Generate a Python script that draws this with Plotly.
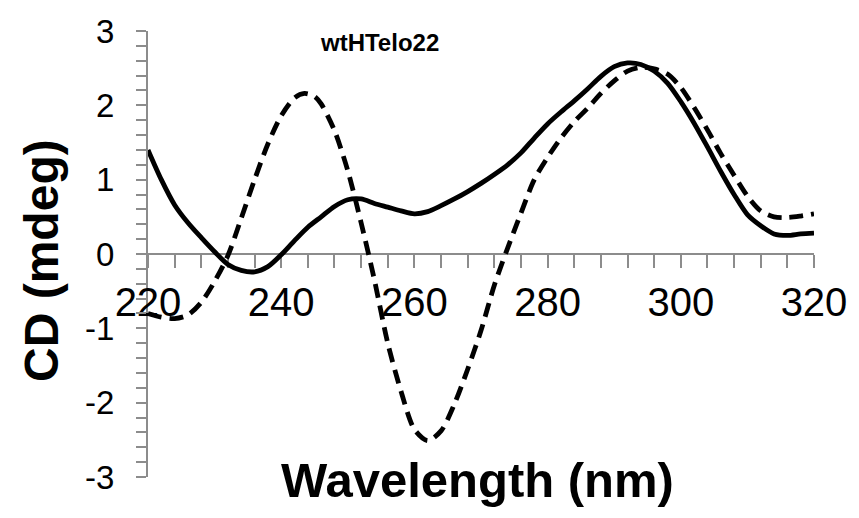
import plotly.graph_objects as go

# Solid curve (wavelength nm, CD mdeg)
solid_wl = [220, 222, 224, 226, 228, 230, 232, 234, 236, 238, 240, 242, 244, 246, 248, 250,
            252, 254, 256, 258, 260, 262, 264, 266, 268, 270, 272, 274, 276, 278, 280, 282,
            284, 286, 288, 290, 292, 294, 296, 298, 300, 302, 304, 306, 308, 310, 312, 314,
            316, 318, 320]
solid_cd = [1.40, 1.00, 0.66, 0.42, 0.22, 0.03, -0.14, -0.22, -0.24, -0.17, -0.01, 0.18, 0.36,
            0.50, 0.64, 0.73, 0.74, 0.68, 0.63, 0.58, 0.54, 0.57, 0.65, 0.74, 0.84, 0.95, 1.07,
            1.20, 1.36, 1.56, 1.75, 1.91, 2.06, 2.22, 2.39, 2.52, 2.57, 2.55, 2.46, 2.30, 2.05,
            1.76, 1.44, 1.11, 0.80, 0.53, 0.38, 0.27, 0.25, 0.27, 0.28]

# Dashed curve
dashed_wl = [220, 222, 224, 226, 228, 230, 232, 234, 236, 238, 240, 242, 243.5, 245, 246, 248,
             250, 252, 254, 256, 258, 260, 262, 264, 266, 268, 270, 272, 274, 276, 278, 280,
             282, 284, 286, 288, 290, 292, 294, 296, 298, 300, 302, 304, 306, 308, 310, 312,
             314, 316, 318, 320]
dashed_cd = [-0.80, -0.85, -0.87, -0.82, -0.65, -0.37, -0.02, 0.48, 1.00, 1.48, 1.86, 2.10,
             2.16, 2.12, 2.02, 1.66, 1.12, 0.42, -0.35, -1.20, -1.85, -2.36, -2.51, -2.38,
             -2.02, -1.55, -1.03, -0.42, 0.08, 0.55, 1.00, 1.30, 1.56, 1.78, 1.96, 2.16, 2.33,
             2.46, 2.51, 2.49, 2.42, 2.24, 1.97, 1.67, 1.35, 1.06, 0.78, 0.58, 0.50, 0.49,
             0.51, 0.54]

x_ticks = [220, 240, 260, 280, 300, 320]
y_ticks = [-3, -2, -1, 0, 1, 2, 3]
y_ticktext = ["-3", "-2", "-1", "0", "1", "2", "3"]

title_text = "wtHTelo22"
x_title = "Wavelength (nm)"
y_title = "CD (mdeg)"

axis_color = "#8c8c8c"
font_family = "Liberation Sans, Arial, sans-serif"

W, H = 859, 518
# target plot box in screen pixels
PL, PR, PT, PB = 148, 820, 31, 477
ml, mr, mt, mb = PL, W - PR, PT, H - PB
pw, ph = PR - PL, PB - PT


def to_paper(px, py):
    return (px - PL) / pw, 1 - (py - PT) / ph


fig = go.Figure()
fig.add_trace(go.Scatter(x=solid_wl, y=solid_cd, mode="lines",
                         line=dict(color="black", width=4.8, shape="spline", smoothing=0.8),
                         showlegend=False, hoverinfo="skip"))
fig.add_trace(go.Scatter(x=dashed_wl, y=dashed_cd, mode="lines",
                         line=dict(color="black", width=4.8, dash="14px,8px", shape="spline",
                                   smoothing=0.8),
                         showlegend=False, hoverinfo="skip"))

tx, ty = to_paper(382, 43)
wx, wy = to_paper(480, 480)
cx, cy = to_paper(40, 260)

fig.update_layout(
    width=W, height=H,
    margin=dict(l=ml, r=mr, t=mt, b=mb),
    paper_bgcolor="white", plot_bgcolor="white",
    font=dict(family=font_family, color="black"),
    xaxis=dict(
        range=[220, 320], anchor="free", position=0.5, side="bottom",
        showgrid=False, zeroline=False, showline=True, linecolor=axis_color, linewidth=2,
        tickmode="array", tickvals=x_ticks, ticks="outside", ticklen=13, tickwidth=1.5,
        tickcolor=axis_color, tickfont=dict(size=40, family=font_family, color="black"),
        ticklabelstandoff=0,
        minor=dict(dtick=4, tick0=220, ticks="outside", ticklen=13, tickwidth=1.5,
                   tickcolor=axis_color, showgrid=False),
        layer="below traces",
    ),
    yaxis=dict(
        range=[-3, 3], domain=[0, 1],
        showgrid=False, zeroline=False, showline=True, linecolor=axis_color, linewidth=2,
        tickmode="array", tickvals=y_ticks, ticktext=y_ticktext, ticks="outside", ticklen=10,
        tickwidth=1.5, tickcolor=axis_color,
        tickfont=dict(size=33, family=font_family, color="black"),
        ticklabelstandoff=15,
        minor=dict(dtick=0.2, tick0=0, ticks="outside", ticklen=10, tickwidth=1.5,
                   tickcolor=axis_color, showgrid=False),
        layer="below traces",
    ),
    annotations=[
        dict(text="<b>" + title_text + "</b>", x=tx, y=ty, xref="paper", yref="paper",
             showarrow=False, font=dict(size=24, family=font_family, color="black"),
             xanchor="center", yanchor="middle"),
        dict(text="<b>" + x_title + "</b>", x=wx, y=wy, xref="paper", yref="paper",
             showarrow=False, font=dict(size=49, family=font_family, color="black"),
             xanchor="center", yanchor="middle"),
        dict(text="<b>" + y_title + "</b>", x=cx, y=cy, xref="paper", yref="paper",
             showarrow=False, textangle=-90,
             font=dict(size=48, family=font_family, color="black"),
             xanchor="center", yanchor="middle"),
    ],
)

fig.write_html("out.html", config={"displayModeBar": False},
               post_script="document.body.style.margin='0';")
